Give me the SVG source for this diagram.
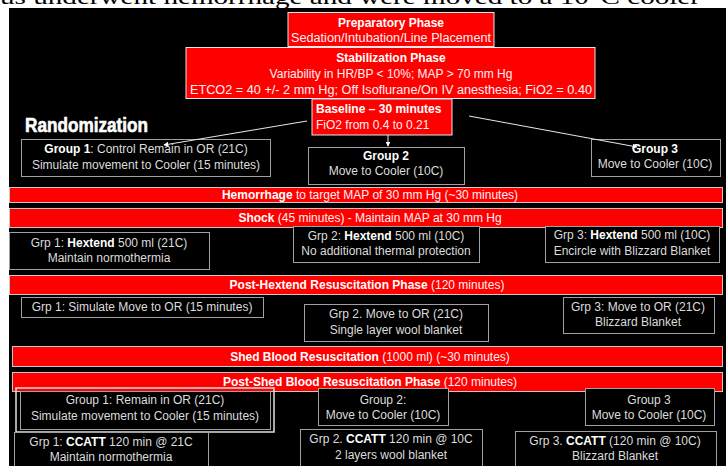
<svg xmlns="http://www.w3.org/2000/svg" width="726" height="466" viewBox="0 0 726 466">
<style>
.band{fill:#ff0000;stroke:#c8c8c8;stroke-width:1}
.rbox{fill:#ff0000;stroke:#e8e8e8;stroke-width:1}
.box{fill:#000;stroke:#a0a0a0;stroke-width:1}
.t{font-family:"Liberation Sans",Arial,sans-serif;font-size:12px;fill:#dcdcdc;text-anchor:middle}
.rt{font-family:"Liberation Sans",Arial,sans-serif;font-size:12px;fill:#fff2f2;text-anchor:middle}
.b{font-weight:bold;fill:#fff}
.con{stroke:#e8e8e8;stroke-width:1;fill:none;marker-end:url(#ah)}
</style>
<defs>
<marker id="ah" viewBox="0 0 8 8" refX="7" refY="4" markerWidth="5" markerHeight="5" orient="auto" markerUnits="userSpaceOnUse">
<path d="M0,0 L8,4 L0,8 z" fill="#fff"/>
</marker>
</defs>
<rect width="726" height="466" fill="#fff"/>
<text x="0" y="3.5" font-family="Liberation Serif,serif" font-size="22" fill="#000" textLength="700" lengthAdjust="spacingAndGlyphs">us underwent hemorrhage and were moved to a 10°C cooler</text>
<rect x="9" y="8" width="717" height="458" fill="#000"/>

<g id="preparatory">
<rect class="rbox" x="288" y="12.5" width="206" height="34"/>
<text class="rt b" x="391" y="27" font-size="12.5">Preparatory Phase</text>
<text class="rt" x="391" y="42" textLength="200" lengthAdjust="spacingAndGlyphs">Sedation/Intubation/Line Placement</text>
</g>
<g id="stabilization">
<rect class="rbox" x="186" y="47.5" width="409" height="51"/>
<text class="rt b" x="391" y="62" font-size="12.5">Stabilization Phase</text>
<text class="rt" x="391" y="78">Variability in HR/BP &lt; 10%; MAP &gt; 70 mm Hg</text>
<text class="rt" x="391" y="94" textLength="402" lengthAdjust="spacingAndGlyphs">ETCO2 = 40 +/- 2 mm Hg; Off Isoflurane/On IV anesthesia; FiO2 = 0.40</text>
</g>
<g id="baseline">
<rect class="rbox" x="312" y="99" width="140" height="36"/>
<text class="rt b" x="316" y="113" font-size="13" style="text-anchor:start">Baseline – 30 minutes</text>
<text class="rt" x="316" y="129" font-size="12.5" style="text-anchor:start">FiO2 from 0.4 to 0.21</text>
</g>
<g id="randomization">
<text x="25" y="132" font-family="Liberation Sans,Arial,sans-serif" font-size="21" font-weight="bold" fill="#fff" stroke="#fff" stroke-width="0.6" textLength="123" lengthAdjust="spacingAndGlyphs">Randomization</text>
</g>
<g id="group1-start">
<rect class="box" x="21.5" y="139.5" width="249" height="37"/>
<text class="t" x="146" y="153"><tspan class="b">Group 1</tspan>: Control Remain in OR (21C)</text>
<text class="t" x="146" y="169">Simulate movement to Cooler (15 minutes)</text>
</g>
<g id="group2-start">
<rect class="box" x="308.5" y="147.5" width="156" height="37"/>
<text class="t b" x="386" y="160">Group 2</text>
<text class="t" x="386" y="175">Move to Cooler (10C)</text>
</g>
<g id="group3-start">
<rect class="box" x="591.5" y="139.5" width="129" height="37"/>
<text class="t b" x="655" y="153">Group 3</text>
<text class="t" x="655" y="168">Move to Cooler (10C)</text>
</g>

<g id="hemorrhage">
<rect class="band" x="9.5" y="187.5" width="713" height="15"/>
<text class="rt" x="370" y="198.5"><tspan class="b">Hemorrhage</tspan> to target MAP of 30 mm Hg (~30 minutes)</text>
</g>
<g id="shock">
<rect class="band" x="9.5" y="208.5" width="713" height="19"/>
<text class="rt" x="370" y="222"><tspan class="b">Shock</tspan> (45 minutes) - Maintain MAP at 30 mm Hg</text>
</g>
<g id="grp1-hextend">
<rect class="box" x="9.5" y="232.5" width="200" height="37"/>
<text class="t" x="109" y="247">Grp 1: <tspan class="b">Hextend</tspan> 500 ml (21C)</text>
<text class="t" x="109" y="262">Maintain normothermia</text>
</g>
<g id="grp2-hextend">
<rect class="box" x="293.5" y="226.5" width="186" height="36"/>
<text class="t" x="386" y="240">Grp 2: <tspan class="b">Hextend</tspan> 500 ml (10C)</text>
<text class="t" x="386" y="255">No additional thermal protection</text>
</g>
<g id="grp3-hextend">
<rect class="box" x="545.5" y="226.5" width="174" height="36"/>
<text class="t" x="632" y="239">Grp 3: <tspan class="b">Hextend</tspan> 500 ml (10C)</text>
<text class="t" x="632" y="255">Encircle with Blizzard Blanket</text>
</g>

<g id="post-hextend">
<rect class="band" x="9.5" y="275.5" width="713" height="19"/>
<text class="rt" x="367" y="288.5"><tspan class="b">Post-Hextend Resuscitation Phase</tspan> (120 minutes)</text>
</g>
<g id="grp1-or">
<rect class="box" x="21.5" y="297.5" width="242" height="20"/>
<text class="t" x="142" y="311">Grp 1: Simulate Move to OR (15 minutes)</text>
</g>
<g id="grp2-or">
<rect class="box" x="304.5" y="304.5" width="184" height="37"/>
<text class="t" x="396" y="318">Grp 2. Move to OR (21C)</text>
<text class="t" x="396" y="334">Single layer wool blanket</text>
</g>
<g id="grp3-or">
<rect class="box" x="563.5" y="297.5" width="151" height="36"/>
<text class="t" x="638" y="311">Grp 3: Move to OR (21C)</text>
<text class="t" x="638" y="326">Blizzard Blanket</text>
</g>

<g id="shed-blood">
<rect class="band" x="12.5" y="346.5" width="710" height="20"/>
<text class="rt" x="370" y="360.5"><tspan class="b">Shed Blood Resuscitation</tspan> (1000 ml) (~30 minutes)</text>
</g>
<g id="post-shed">
<rect class="band" x="12.5" y="372.5" width="710" height="19"/>
<text class="rt" x="370" y="385.5"><tspan class="b">Post-Shed Blood Resuscitation Phase</tspan> (120 minutes)</text>
</g>
<g id="group1-end">
<rect x="16" y="388" width="258" height="44" fill="none" stroke="#e0e0e0" stroke-width="1.5"/>
<rect class="box" x="20.5" y="391.5" width="250" height="38"/>
<text class="t" x="145" y="404">Group 1: Remain in OR (21C)</text>
<text class="t" x="145" y="420">Simulate movement to Cooler (15 minutes)</text>
</g>
<g id="group2-end">
<rect class="box" x="318.5" y="388.5" width="130" height="37"/>
<text class="t" x="383" y="404">Group 2:</text>
<text class="t" x="383" y="419">Move to Cooler (10C)</text>
</g>
<g id="group3-end">
<rect class="box" x="585.5" y="388.5" width="129" height="37"/>
<text class="t" x="649" y="404">Group 3</text>
<text class="t" x="649" y="419">Move to Cooler (10C)</text>
</g>
<g id="grp1-ccatt">
<rect class="box" x="14.5" y="432.5" width="194" height="40"/>
<text class="t" x="111" y="446">Grp 1: <tspan class="b">CCATT</tspan> 120 min @ 21C</text>
<text class="t" x="111" y="461">Maintain normothermia</text>
</g>
<g id="grp2-ccatt">
<rect class="box" x="300.5" y="429.5" width="182" height="40"/>
<text class="t" x="391" y="443">Grp 2. <tspan class="b">CCATT</tspan> 120 min @ 10C</text>
<text class="t" x="391" y="459">2 layers wool blanket</text>
</g>
<g id="grp3-ccatt">
<rect class="box" x="515.5" y="431.5" width="201" height="40"/>
<text class="t" x="615" y="445">Grp 3. <tspan class="b">CCATT</tspan> (120 min @ 10C)</text>
<text class="t" x="615" y="460">Blizzard Blanket</text>
</g>

<g id="connectors">
<line class="con" x1="307" y1="121" x2="164" y2="145"/>
<line class="con" x1="388" y1="135" x2="388" y2="146"/>
<line class="con" x1="469" y1="116" x2="637" y2="147"/>
</g>
</svg>
